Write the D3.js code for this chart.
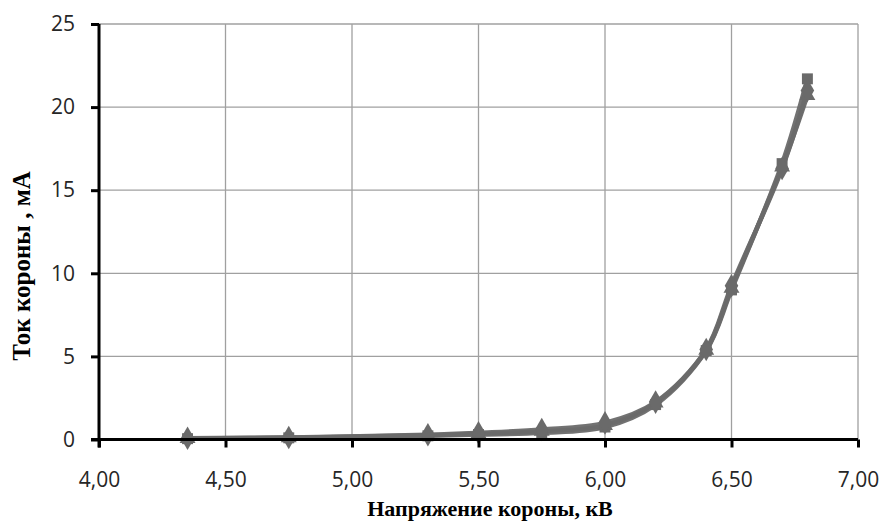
<!DOCTYPE html>
<html><head><meta charset="utf-8">
<script src="https://cdn.jsdelivr.net/npm/d3@7/dist/d3.min.js"></script>
<style>body{margin:0;background:#fff;}svg{display:block;}</style>
</head><body>
<svg id="c" width="883" height="524"></svg>
<script>
const voltage = [4.35, 4.75, 5.30, 5.50, 5.75, 6.00, 6.20, 6.40, 6.50, 6.70, 6.80];
const seriesDiamond = [0.08, 0.12, 0.28, 0.40, 0.60, 1.00, 2.25, 5.42, 9.25, 16.3, 21.0];
const seriesSquare  = [0.05, 0.10, 0.22, 0.30, 0.40, 0.75, 2.10, 5.35, 9.00, 16.6, 21.7];
const seriesTriangle= [0.06, 0.11, 0.25, 0.35, 0.50, 0.85, 2.20, 5.38, 9.10, 16.4, 20.7];
const xTicks = [4.0, 4.5, 5.0, 5.5, 6.0, 6.5, 7.0];
const yTicks = [0, 5, 10, 15, 20, 25];
const xTitle = "Напряжение короны, кВ";
const yTitle = "Ток короны , мА";

const svg = d3.select("#c");
const L = 99, R = 858, T = 24, B = 439.5;
const x = d3.scaleLinear().domain([4, 7]).range([L, R]);
const y = d3.scaleLinear().domain([0, 25]).range([B, T]);
const fmt = v => d3.format(".2f")(v).replace(".", ",");

// gridlines
const g = svg.append("g");
g.selectAll(".vg").data(xTicks.slice(1)).enter().append("line")
  .attr("x1", d => x(d)).attr("x2", d => x(d)).attr("y1", T).attr("y2", B)
  .attr("stroke", "#a0a0a0").attr("stroke-width", 1.3);
g.selectAll(".hg").data(yTicks.slice(1)).enter().append("line")
  .attr("x1", L).attr("x2", R).attr("y1", d => y(d)).attr("y2", d => y(d))
  .attr("stroke", "#a0a0a0").attr("stroke-width", 1.3);

const color = "#6a6a6a";
const line = d3.line().x(d => x(d[0])).y(d => y(d[1])).curve(d3.curveCatmullRom.alpha(0.5));
const all = [
  {vals: seriesTriangle, sym: d3.symbolTriangle, size: 110},
  {vals: seriesSquare, sym: d3.symbolSquare, size: 120},
  {vals: seriesDiamond, sym: d3.symbolDiamond, size: 160}
];
all.forEach(s => {
  const pts = voltage.map((v, i) => [v, s.vals[i]]);
  svg.append("path").attr("d", line(pts)).attr("fill", "none")
    .attr("stroke", color).attr("stroke-width", 4.5).attr("stroke-opacity", 0.95);
});
all.forEach(s => {
  const pts = voltage.map((v, i) => [v, s.vals[i]]);
  svg.append("g").selectAll("path").data(pts).enter().append("path")
    .attr("transform", d => `translate(${x(d[0])},${y(d[1])})`)
    .attr("d", d3.symbol().type(s.sym).size(s.size)).attr("fill", color);
});

// axes
const xAxis = svg.append("g").attr("transform", `translate(0,${B})`)
  .call(d3.axisBottom(x).tickValues(xTicks).tickFormat(fmt).tickSize(8).tickSizeOuter(0).tickPadding(25));
const yAxis = svg.append("g").attr("transform", `translate(${L},0)`)
  .call(d3.axisLeft(y).tickValues(yTicks).tickSize(8).tickSizeOuter(0).tickPadding(16));
[xAxis, yAxis].forEach(a => {
  a.select(".domain").attr("stroke", "#000").attr("stroke-width", 3);
  a.selectAll(".tick line").attr("stroke", "#000").attr("stroke-width", 3);
  a.selectAll("text").attr("font-family", "'Open Sans', sans-serif").attr("font-size", 21).attr("fill", "#262626");
});
xAxis.select(".domain").attr("d", `M${L - 8},0H${R}`);
yAxis.select(".domain").attr("d", `M0,${B + 8}V${T}`);

svg.append("text").attr("x", 490).attr("y", 516).attr("text-anchor", "middle")
  .attr("font-family", "'Liberation Serif', serif").attr("font-weight", "bold").attr("font-size", 22)
  .text(xTitle);
svg.append("text").attr("transform", "translate(30,266) rotate(-90)").attr("text-anchor", "middle")
  .attr("font-family", "'Liberation Serif', serif").attr("font-weight", "bold").attr("font-size", 25)
  .text(yTitle);
</script>
</body></html>
